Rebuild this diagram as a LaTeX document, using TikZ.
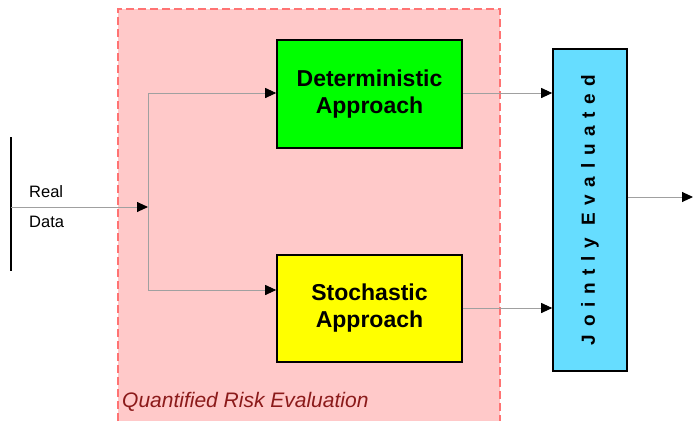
\documentclass[tikz,border=0pt]{standalone}
\usepackage{fontspec}
\setmainfont{Liberation Sans}
\usetikzlibrary{arrows.meta}
\definecolor{regionfill}{HTML}{FFC9C9}
\definecolor{regionedge}{HTML}{FF7373}
\definecolor{labelred}{HTML}{8B1A1A}
\definecolor{boxgreen}{HTML}{00FF00}
\definecolor{boxyellow}{HTML}{FFFF00}
\definecolor{boxblue}{HTML}{66DDFF}
\definecolor{wirecol}{HTML}{A0A0A0}
\begin{document}
\begin{tikzpicture}[x=1pt,y=-1pt,
 box/.style={draw=black,line width=1.6pt,font=\fontsize{23}{27}\selectfont\bfseries,align=center,inner sep=0pt},
 wire/.style={draw=wirecol,line width=0.9pt,-{Triangle[length=11pt,width=10pt,color=black]}},
 txt/.style={font=\fontsize{16.5}{20}\selectfont,inner sep=0pt}]
\useasboundingbox (0,0) rectangle (693,421);
% region
\fill[regionfill] (118,9) rectangle (500,421);
\draw[regionedge, line width=1.2pt, dash pattern=on 8pt off 4pt] (118,421) -- (118,9) -- (500,9) -- (500,421);
% boxes
\node[box, fill=boxgreen, minimum width=185pt, minimum height=108pt] (det) at (369.5,94) {Deterministic\\Approach};
\node[box, fill=boxyellow, minimum width=185pt, minimum height=107pt] (sto) at (369.5,308.5) {Stochastic\\Approach};
\node[box, fill=boxblue, minimum width=74pt, minimum height=322pt] (joint) at (590,210) {};
\node[rotate=90, font=\fontsize{19}{21}\selectfont\bfseries, inner sep=0pt] (jtext) at (joint.center) {\addfontfeature{LetterSpace=40}Jointly Evaluated};
% source
\coordinate (bartop) at (11,137);
\coordinate (barbot) at (11,271);
\draw[black, line width=1.5pt] (bartop) -- (barbot);
\coordinate (src) at (11,207);
\coordinate (split) at (148,207);
\node[txt, anchor=west] (real) at (29,192) {Real};
\node[txt, anchor=west] (data) at (29,222) {Data};
\draw[wire] (src) -- (split);
\draw[wire] (split) |- (det.west |- 0,93);
\draw[wire] (split) |- (sto.west |- 0,290);
\draw[wire] (det.east |- 0,93) -- (joint.west |- 0,93);
\draw[wire] (sto.east |- 0,308) -- (joint.west |- 0,308);
\coordinate (out) at (693,197);
\draw[wire] (joint.east |- out) -- (out);
\node[anchor=base west, font=\fontsize{21}{24}\selectfont\itshape, text=labelred, inner sep=0pt] (qre) at (122,407) {Quantified Risk Evaluation};
\end{tikzpicture}
\end{document}
